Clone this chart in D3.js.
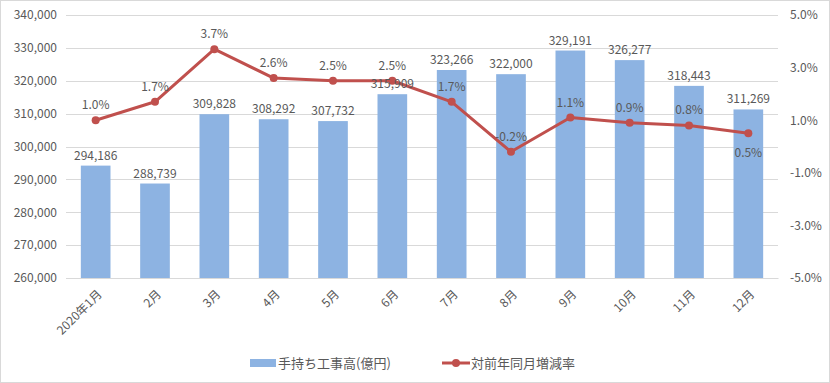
<!DOCTYPE html>
<html>
<head>
<meta charset="utf-8">
<script src="https://cdn.jsdelivr.net/npm/d3@7/dist/d3.min.js"></script>
<style>
body { margin: 0; background: #fff; }
svg text { font-family: "Noto Sans CJK JP", "Noto Sans", sans-serif; fill: #595959; font-size: 12px; }
</style>
</head>
<body>
<div id="chart"></div>
<script>
var months = ["2020年1月", "2月", "3月", "4月", "5月", "6月", "7月", "8月", "9月", "10月", "11月", "12月"];
var backlog = [294186, 288739, 309828, 308292, 307732, 315909, 323266, 322000, 329191, 326277, 318443, 311269];
var yoyRate = [1.0, 1.7, 3.7, 2.6, 2.5, 2.5, 1.7, -0.2, 1.1, 0.9, 0.8, 0.5];
var leftTicks = [260000, 270000, 280000, 290000, 300000, 310000, 320000, 330000, 340000];
var rightTicks = [-5, -3, -1, 1, 3, 5];
var seriesNames = ["手持ち工事高(億円)", "対前年同月増減率"];

var W = 830, H = 383;
var plot = {left: 66, right: 778, top: 15, bottom: 278};

var BAR_COLOR = "#8db3e2";
var LINE_COLOR = "#c0504d";
var GRID_COLOR = "#d9d9d9";

var COMMAFMT = d3.format(",");
var PCTFMT = function(d) { return d.toFixed(1) + "%"; };   // plain hyphen, like Excel

var x = d3.scaleBand().domain(months).range([plot.left, plot.right]).paddingInner(0.5).paddingOuter(0.25);
var yLeft = d3.scaleLinear().domain([260000, 340000]).range([plot.bottom, plot.top]);
var yRight = d3.scaleLinear().domain([-5, 5]).range([plot.bottom, plot.top]);

var svg = d3.select("#chart").append("svg")
	.attr("width", W)
	.attr("height", H);

// chart border
svg.append("rect")
	.attr("x", 0.5).attr("y", 0.5)
	.attr("width", W - 1).attr("height", H - 1)
	.attr("fill", "#fff")
	.attr("stroke", GRID_COLOR);

// gridlines
svg.append("g")
	.selectAll("line")
	.data(leftTicks)
	.enter()
	.append("line")
	.attr("x1", plot.left)
	.attr("x2", plot.right)
	.attr("y1", function(d) { return Math.round(yLeft(d)) + 0.5; })
	.attr("y2", function(d) { return Math.round(yLeft(d)) + 0.5; })
	.attr("stroke", GRID_COLOR);

// left axis labels
var leftAxis = svg.append("g")
	.attr("transform", "translate(" + (plot.left - 9) + ",0)")
	.call(d3.axisLeft(yLeft).tickValues(leftTicks).tickFormat(COMMAFMT).tickSize(0).tickPadding(0));
leftAxis.select(".domain").remove();
leftAxis.selectAll("text").style("font-size", "12px").attr("fill", "#595959");

// right axis labels
var rightAxis = svg.append("g")
	.attr("transform", "translate(" + (plot.right + 12) + ",0)")
	.call(d3.axisRight(yRight).tickValues(rightTicks).tickFormat(PCTFMT).tickSize(0).tickPadding(0));
rightAxis.select(".domain").remove();
rightAxis.selectAll("text").style("font-size", "12px").attr("fill", "#595959");

// bars
svg.append("g")
	.selectAll("rect")
	.data(backlog)
	.enter()
	.append("rect")
	.attr("x", function(d, i) { return x(months[i]); })
	.attr("y", function(d) { return yLeft(d); })
	.attr("width", x.bandwidth())
	.attr("height", function(d) { return plot.bottom - yLeft(d); })
	.attr("fill", BAR_COLOR);

// bottom axis
var bottomAxis = svg.append("g")
	.attr("transform", "translate(0," + plot.bottom + ")")
	.call(d3.axisBottom(x).tickSize(0).tickPadding(0));
bottomAxis.select(".domain").attr("stroke", GRID_COLOR);
bottomAxis.selectAll("text")
	.style("font-size", "12px")
	.attr("fill", "#595959")
	.attr("text-anchor", "end")
	.attr("dy", "0.35em")
	.attr("transform", "translate(4,14) rotate(-45)");

// line
var line = d3.line()
	.x(function(d, i) { return x(months[i]) + x.bandwidth() / 2; })
	.y(function(d) { return yRight(d); });

svg.append("path")
	.datum(yoyRate)
	.attr("d", line)
	.attr("fill", "none")
	.attr("stroke", LINE_COLOR)
	.attr("stroke-width", 3)
	.attr("stroke-linejoin", "round");

svg.append("g")
	.selectAll("circle")
	.data(yoyRate)
	.enter()
	.append("circle")
	.attr("cx", function(d, i) { return x(months[i]) + x.bandwidth() / 2; })
	.attr("cy", function(d) { return yRight(d); })
	.attr("r", 4)
	.attr("fill", LINE_COLOR);

// bar value labels
svg.append("g")
	.selectAll("text")
	.data(backlog)
	.enter()
	.append("text")
	.attr("x", function(d, i) { return x(months[i]) + x.bandwidth() / 2; })
	.attr("y", function(d) { return yLeft(d) - 6; })
	.attr("text-anchor", "middle")
	.text(function(d) { return COMMAFMT(d); });

// rate labels (last one sits below the point)
svg.append("g")
	.selectAll("text")
	.data(yoyRate)
	.enter()
	.append("text")
	.attr("x", function(d, i) { return x(months[i]) + x.bandwidth() / 2; })
	.attr("y", function(d, i) { return i === yoyRate.length - 1 ? yRight(d) + 24 : yRight(d) - 11; })
	.attr("text-anchor", "middle")
	.text(function(d) { return PCTFMT(d); });

// legend
var legend = svg.append("g").attr("transform", "translate(250,363)");

legend.append("rect")
	.attr("x", 0).attr("y", -4)
	.attr("width", 26).attr("height", 8)
	.attr("fill", BAR_COLOR);
legend.append("text")
	.attr("x", 28).attr("y", 0).attr("dy", "0.35em")
	.style("font-size", "13px")
	.text(seriesNames[0]);

legend.append("line")
	.attr("x1", 192).attr("x2", 220)
	.attr("y1", 0).attr("y2", 0)
	.attr("stroke", LINE_COLOR)
	.attr("stroke-width", 3);
legend.append("circle")
	.attr("cx", 206).attr("cy", 0).attr("r", 4)
	.attr("fill", LINE_COLOR);
legend.append("text")
	.attr("x", 221).attr("y", 0).attr("dy", "0.35em")
	.style("font-size", "13px")
	.text(seriesNames[1]);
</script>
</body>
</html>
